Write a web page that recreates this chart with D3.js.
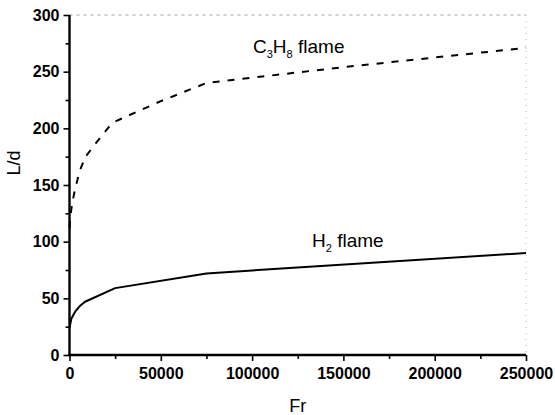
<!DOCTYPE html>
<html>
<head>
<meta charset="utf-8">
<script src="https://cdn.jsdelivr.net/npm/d3@7"></script>
<style>
  body { margin: 0; background: #fff; }
  svg { display: block; font-family: 'Liberation Sans', Arial, sans-serif; }
</style>
</head>
<body>
<div class="chart"></div>
<script>
// L/d versus Froude number for a propane and a hydrogen jet flame.
// Values; the curves are piecewise lines.
var h2Fr  = [0, 1000, 3000, 5500, 8500, 25000, 75000, 250000]
var h2Ld  = [24, 32, 38, 43, 47, 59, 72, 90]

var c3Fr  = [0, 500, 1500, 3000, 5500, 8750, 15000, 21500, 25000, 50000, 75000, 150000, 250000]
var c3Ld  = [112, 123, 134, 146, 162, 175, 188, 201, 206, 224, 240, 254, 271]

var xTicks = [0, 50000, 100000, 150000, 200000, 250000]
var xMinor = [25000, 75000, 125000, 175000, 225000]
var yTicks = [0, 50, 100, 150, 200, 250, 300]
var yMinor = [25, 75, 125, 175, 225, 275]

var W = 555, H = 415
var margin = {top: 15, right: 29, bottom: 60, left: 69.5}
var width = W - margin.left - margin.right
var height = H - margin.top - margin.bottom

var svg = d3.select('.chart').append('svg').attr('width', W).attr('height', H)
var g = svg.append('g').attr('transform', 'translate(' + margin.left + ',' + margin.top + ')')

var x = d3.scaleLinear().domain([0, 250000]).range([0, width])
var y = d3.scaleLinear().domain([0, 300]).range([height, 0])

// faint scanned frame on top and right
g.append('line').attr('x1', 0).attr('x2', width).attr('y1', 0).attr('y2', 0)
  .attr('stroke', '#a0a0a0').attr('stroke-width', 1).attr('stroke-dasharray', '3,4')
g.append('line').attr('x1', width).attr('x2', width).attr('y1', 0).attr('y2', height)
  .attr('stroke', '#bbb').attr('stroke-width', 1).attr('stroke-dasharray', '1,5')

// ---- axes ---- (outward ticks, long majors, short minors; own thick spines)
g.append('g').attr('transform', 'translate(0,' + height + ')')
  .call(d3.axisBottom(x).tickValues(xTicks).tickSize(6).tickPadding(7).tickFormat(d3.format('d')))
g.append('g').attr('transform', 'translate(0,' + height + ')')
  .call(d3.axisBottom(x).tickValues(xMinor).tickSize(4).tickFormat(''))
g.append('g')
  .call(d3.axisLeft(y).tickValues(yTicks).tickSize(6).tickPadding(4))
g.append('g')
  .call(d3.axisLeft(y).tickValues(yMinor).tickSize(4).tickFormat(''))

g.selectAll('.domain').remove()
g.append('line').attr('x1', 0).attr('x2', 0).attr('y1', 0).attr('y2', height)
  .attr('stroke', '#000').attr('stroke-width', 2.4)
g.append('line').attr('x1', -1).attr('x2', width).attr('y1', height).attr('y2', height)
  .attr('stroke', '#000').attr('stroke-width', 2.4)
g.selectAll('.tick line').attr('stroke', '#000').attr('stroke-width', 1.6)
g.selectAll('.tick text').attr('fill', '#000').attr('font-size', 16).attr('font-weight', 'bold')
  .attr('font-family', "'Liberation Sans', Arial, sans-serif")

// ---- curves ----
var line = d3.line().x(function(d){ return x(d[0]) }).y(function(d){ return y(d[1]) })
var h2 = d3.zip(h2Fr, h2Ld)
var c3 = d3.zip(c3Fr, c3Ld)

g.append('path').attr('d', line(c3)).attr('fill', 'none').attr('stroke', '#000')
  .attr('stroke-width', 2).attr('stroke-dasharray', '7,8')
g.append('path').attr('d', line(h2)).attr('fill', 'none').attr('stroke', '#000')
  .attr('stroke-width', 2).attr('stroke-linejoin', 'round')

// ---- curve labels ----
var c3Label = svg.append('text').attr('x', 253).attr('y', 53).attr('font-size', 19).attr('fill', '#000')
c3Label.append('tspan').text('C')
c3Label.append('tspan').text('3').attr('font-size', 11).attr('dy', 5)
c3Label.append('tspan').text('H').attr('dy', -5)
c3Label.append('tspan').text('8').attr('font-size', 11).attr('dy', 5)
c3Label.append('tspan').text(' flame').attr('dy', -5)

var h2Label = svg.append('text').attr('x', 312).attr('y', 247).attr('font-size', 19).attr('fill', '#000')
h2Label.append('tspan').text('H')
h2Label.append('tspan').text('2').attr('font-size', 11).attr('dy', 5)
h2Label.append('tspan').text(' flame').attr('dy', -5)

// ---- axis titles ----
svg.append('text').text('Fr').attr('x', margin.left + width / 2).attr('y', 412)
  .attr('text-anchor', 'middle').attr('font-size', 18).attr('fill', '#000')
svg.append('text').text('L/d').attr('transform', 'translate(20,163) rotate(-90)')
  .attr('text-anchor', 'middle').attr('font-size', 18).attr('fill', '#000')
</script>
</body>
</html>
